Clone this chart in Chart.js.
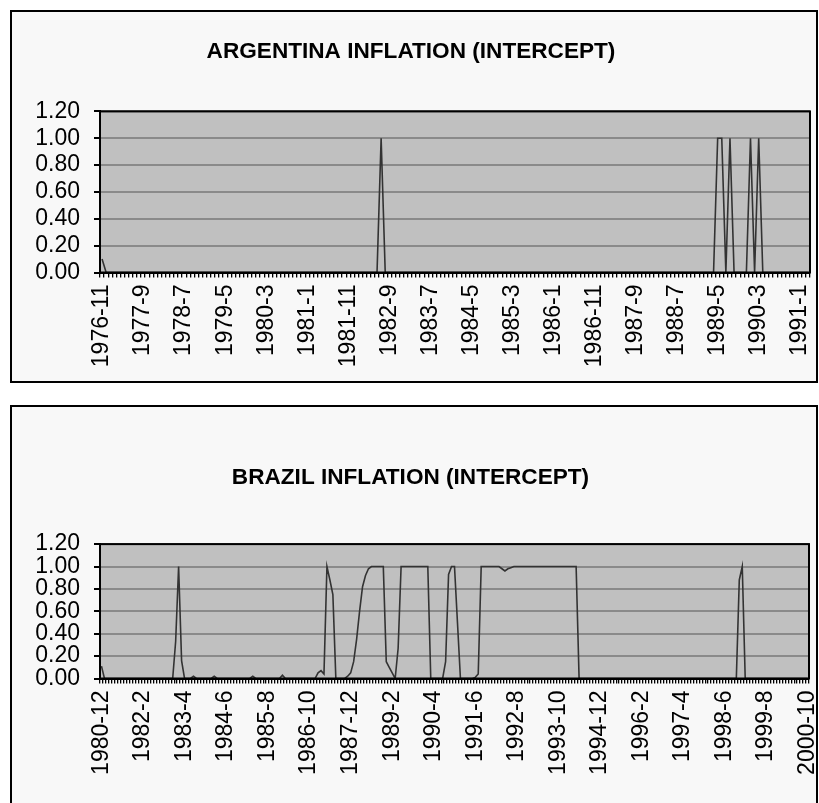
<!DOCTYPE html>
<html><head><meta charset="utf-8">
<script src="https://cdn.jsdelivr.net/npm/chart.js@4.4.0/dist/chart.umd.min.js"></script>
<style>
html,body{margin:0;padding:0;background:#fff;}
body{width:819px;height:803px;position:relative;overflow:hidden;}
.box{position:absolute;left:10px;width:804px;border:2px solid #000;background:#f8f8f8;}
#box1{top:10px;height:369px;}
#box2{top:405px;height:400px;border-bottom:none;}
canvas{display:block;}
</style></head><body>
<div class="box" id="box1"><canvas id="c1" width="804" height="369"></canvas></div>
<div class="box" id="box2"><canvas id="c2" width="804" height="396"></canvas></div>
<script>
const FONT = "'Liberation Sans', Arial, sans-serif";

// ---- Argentina ----
const argTitle = 'ARGENTINA INFLATION (INTERCEPT)';
const argStart = [1976, 11];
const argTickLabels = ['1976-11','1977-9','1978-7','1979-5','1980-3','1981-1','1981-11','1982-9','1983-7','1984-5','1985-3','1986-1','1986-11','1987-9','1988-7','1989-5','1990-3','1991-1'];
const argValues = [
  0.1,0,0,0,0,0,0,0,0,0,0,0,0,0,0,0,0,0,0,0,
  0,0,0,0,0,0,0,0,0,0,0,0,0,0,0,0,0,0,0,0,
  0,0,0,0,0,0,0,0,0,0,0,0,0,0,0,0,0,0,0,0,
  0,0,0,0,0,0,0,0,1,0,0,0,0,0,0,0,0,0,0,0,
  0,0,0,0,0,0,0,0,0,0,0,0,0,0,0,0,0,0,0,0,
  0,0,0,0,0,0,0,0,0,0,0,0,0,0,0,0,0,0,0,0,
  0,0,0,0,0,0,0,0,0,0,0,0,0,0,0,0,0,0,0,0,
  0,0,0,0,0,0,0,0,0,0,1,1,0,1,0,0,0,0,1,0,
  1,0,0,0,0,0,0,0,0,0,0,0,0
];

// ---- Brazil ----
const braTitle = 'BRAZIL INFLATION (INTERCEPT)';
const braStart = [1980, 12];
const braTickLabels = ['1980-12','1982-2','1983-4','1984-6','1985-8','1986-10','1987-12','1989-2','1990-4','1991-6','1992-8','1993-10','1994-12','1996-2','1997-4','1998-6','1999-8','2000-10'];
const braValues = [
  0.11,0,0,0,0,0,0,0,0,0,0,0,0,0,0,0,0,0,0,0,
  0,0,0,0,0,0.33,1,0.16,0,0,0,0.02,0,0,0,0,0,0,0.02,0,
  0,0,0,0,0,0,0,0,0,0,0,0.02,0,0,0,0,0,0,0,0,
  0,0.03,0,0,0,0,0,0,0,0,0,0,0,0.05,0.07,0.04,1,0.88,0.75,0,
  0,0,0,0.02,0.05,0.15,0.35,0.6,0.82,0.92,0.98,1,1,1,1,1,0.15,0.1,0.05,0,
  0.27,1,1,1,1,1,1,1,1,1,1,0,0,0,0,0,0.15,0.93,1,1,
  0.5,0,0,0,0,0,0.01,0.04,1,1,1,1,1,1,1,0.98,0.96,0.98,0.99,1,
  1,1,1,1,1,1,1,1,1,1,1,1,1,1,1,1,1,1,1,1,
  1,0,0,0,0,0,0,0,0,0,0,0,0,0,0,0,0,0,0,0,
  0,0,0,0,0,0,0,0,0,0,0,0,0,0,0,0,0,0,0,0,
  0,0,0,0,0,0,0,0,0,0,0,0,0,0,0,0.88,1,0,0,0,
  0,0,0,0,0,0,0,0,0,0,0,0,0,0,0,0,0,0,0
];

function monthLabels(start, count) {
  const out = [];
  let y = start[0], m = start[1];
  for (let i = 0; i < count; i++) {
    out.push(y + '-' + m);
    m++; if (m > 12) { m = 1; y++; }
  }
  return out;
}

const areaPlugin = {
  id: 'area',
  beforeDraw(chart) {
    const a = chart.chartArea, ctx = chart.ctx;
    ctx.save(); ctx.fillStyle = '#c0c0c0';
    ctx.fillRect(a.left, a.top, a.right - a.left, a.bottom - a.top);
    ctx.restore();
  },
  afterDraw(chart) {
    const a = chart.chartArea, ctx = chart.ctx;
    ctx.save(); ctx.strokeStyle = '#000'; ctx.lineWidth = 2;
    ctx.strokeRect(a.left, a.top, a.right - a.left, a.bottom - a.top);
    ctx.restore();
  }
};

function makeChart(id, title, start, values, tickLabels, g) {
  const labels = monthLabels(start, values.length);
  return new Chart(document.getElementById(id), {
    type: 'line',
    data: { labels: labels, datasets: [{ data: values, borderColor: '#333333', borderWidth: 1.6, pointRadius: 0, fill: false, tension: 0 }] },
    options: {
      responsive: false, animation: false, devicePixelRatio: 1,
      layout: { padding: { left: 0, right: g.padRight, top: 0, bottom: 0 } },
      plugins: {
        legend: { display: false }, tooltip: { enabled: false },
        title: { display: true, text: title, color: '#000',
          font: { family: FONT, size: 22.6, weight: 'bold', lineHeight: 1.2 },
          padding: { top: g.titleTop, bottom: g.titleBottom } }
      },
      scales: {
        x: {
          type: 'category', offset: true,
          grid: { display: true, drawOnChartArea: false, drawTicks: true, tickLength: 5, tickColor: '#000', color: '#000', offset: true, lineWidth: 1.3 },
          border: { display: true, color: '#000', width: 2 },
          ticks: { autoSkip: false, maxRotation: 90, minRotation: 90, padding: 7, color: '#000',
            font: { family: FONT, size: 23 },
            callback: function (v) { const l = this.getLabelForValue(v); return tickLabels.includes(l) ? l : ''; } },
          afterFit: function (s) { s.height = g.xHeight; s.paddingLeft = 0; s.paddingRight = 0; }
        },
        y: {
          min: 0, max: 1.2,
          ticks: { stepSize: 0.2, autoSkip: false, padding: 14, color: '#000', font: { family: FONT, size: 23 },
            callback: function (v) { return Number(v).toFixed(2); } },
          grid: { color: '#8a8a8a', lineWidth: 2, tickColor: '#000', tickLength: 6, drawTicks: true },
          border: { display: true, color: '#000', width: 2 },
          afterFit: function (s) { s.width = g.yWidth; }
        }
      }
    },
    plugins: [areaPlugin]
  });
}

makeChart('c1', argTitle, argStart, argValues, argTickLabels,
  { padRight: 6, titleTop: 26, titleBottom: 46.3, xHeight: 108.5, yWidth: 88 });
makeChart('c2', braTitle, braStart, braValues, braTickLabels,
  { padRight: 7, titleTop: 57.5, titleBottom: 52.5, xHeight: 124.5, yWidth: 88 });
</script>
</body></html>
